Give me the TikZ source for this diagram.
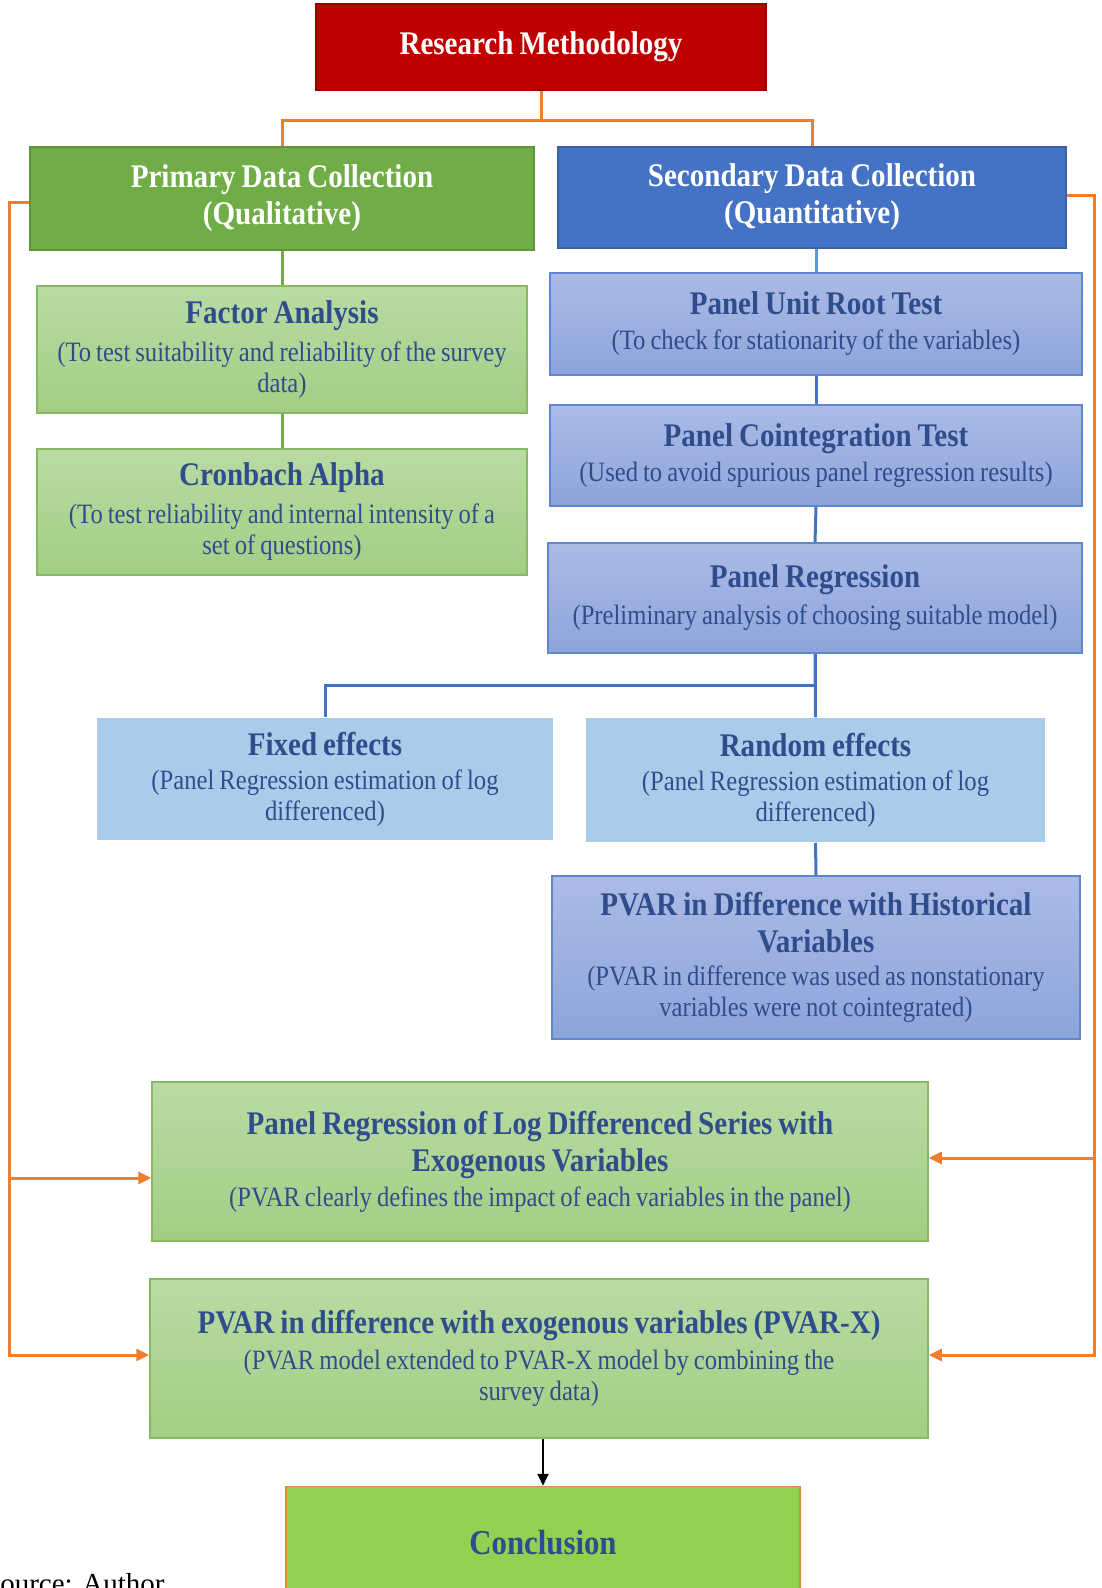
\documentclass[tikz,border=0pt]{standalone}
\usepackage{fontspec}
\setmainfont{Liberation Serif}[FakeStretch=0.88]
\newfontfamily\plainserif{Liberation Serif}
\usetikzlibrary{arrows.meta}

\definecolor{rmred}{RGB}{192,0,0}
\definecolor{pgreen}{RGB}{112,173,71}
\definecolor{sblue}{RGB}{68,114,196}
\definecolor{lgtop}{RGB}{186,219,163}
\definecolor{lgbot}{RGB}{163,205,132}
\definecolor{pwtop}{RGB}{172,187,230}
\definecolor{pwbot}{RGB}{141,164,218}
\definecolor{skyfill}{RGB}{170,204,235}
\definecolor{concfill}{RGB}{146,208,80}
\definecolor{ora}{RGB}{237,125,49}
\definecolor{txtblue}{RGB}{47,77,140}
\definecolor{linkblue}{RGB}{91,155,213}

% title line and explanatory line inside the boxes (tight word spacing)
\newcommand\btitle[1]{{\fontsize{33}{37}\selectfont\bfseries\spaceskip=6pt #1\par}}
\newcommand\bsub[1]{{\fontsize{28}{31}\selectfont\spaceskip=5pt #1\par}}

\tikzset{
  cell/.style 2 args={rectangle, inner sep=0pt, minimum width=#1pt,
    minimum height=#2pt, text width=#1pt, align=center, line width=1.5pt,
    font=\fontsize{28}{31}\selectfont, text=txtblue},
  redhead/.style={fill=rmred, draw=rmred!80!black, text=white},
  greenhead/.style={fill=pgreen, draw=pgreen!85!black, text=white},
  bluehead/.style={fill=sblue, draw=sblue!85!black, text=white},
  lightgreen/.style={top color=lgtop, bottom color=lgbot, draw=pgreen!85},
  periwinkle/.style={top color=pwtop, bottom color=pwbot, draw=sblue!85},
  sky/.style={fill=skyfill},
  conc/.style={fill=concfill, draw=ora!80!concfill},
  oraline/.style={draw=ora, line width=3pt},
  greenline/.style={draw=pgreen, line width=3pt},
  blueline/.style={draw=sblue, line width=3pt},
  oraarrow/.style={oraline, -{Triangle[length=13pt,width=12pt]}},
  blackarrow/.style={draw=black, line width=1.8pt, -{Triangle[length=12pt,width=11pt]}}
}

\begin{document}
\begin{tikzpicture}[x=1pt,y=-1pt]
\useasboundingbox (0,0) rectangle (1101,1588);
\clip (0,0) rectangle (1101,1588);

% ---- top level
\node[cell={450}{86}, redhead] (rm) at (541,47)
  {\btitle{Research Methodology}};

\node[cell={504}{103}, greenhead] (prim) at (282,198.5)
  {\btitle{Primary Data Collection\\(Qualitative)}};
\node[cell={508}{101}, bluehead] (sec) at (812,197.5)
  {\btitle{Secondary Data Collection\\(Quantitative)}};

% ---- qualitative branch
\node[cell={490}{127}, lightgreen] (fa) at (282,349.5)
  {\btitle{Factor Analysis}\vspace{7pt}\bsub{(To test suitability and reliability of the survey\\data)}};
\node[cell={490}{126}, lightgreen] (ca) at (282,512)
  {\btitle{Cronbach Alpha}\vspace{7pt}\bsub{(To test reliability and internal intensity of a\\set of questions)}};

% ---- quantitative branch
\node[cell={532}{102}, periwinkle] (purt) at (816,324)
  {\btitle{Panel Unit Root Test}\vspace{4pt}\bsub{(To check for stationarity of the variables)}};
\node[cell={532}{101}, periwinkle] (pct) at (816,455.5)
  {\btitle{Panel Cointegration Test}\vspace{4pt}\bsub{(Used to avoid spurious panel regression results)}};
\node[cell={534}{110}, periwinkle] (pr) at (815,598)
  {\btitle{Panel Regression}\vspace{6pt}\bsub{(Preliminary analysis of choosing suitable model)}};

\node[cell={456}{122}, sky] (fe) at (325,779)
  {\btitle{Fixed effects}\vspace{3pt}\bsub{(Panel Regression estimation of log\\differenced)}};
\node[cell={459}{124}, sky] (re) at (815.5,780)
  {\btitle{Random effects}\vspace{3pt}\bsub{(Panel Regression estimation of log\\differenced)}};

\node[cell={528}{163}, periwinkle] (pvh) at (816,957.5)
  {\btitle{PVAR in Difference with Historical\\Variables}\vspace{2pt}\bsub{(PVAR in difference was used as nonstationary\\variables were not cointegrated)}};

% ---- combined models
\node[cell={776}{159}, lightgreen] (prl) at (540,1161.5)
  {\btitle{Panel Regression of Log Differenced Series with\\Exogenous Variables}\vspace{4pt}\bsub{(PVAR clearly defines the impact of each variables in the panel)}};
\node[cell={778}{159}, lightgreen] (pvx) at (539,1358.5)
  {\btitle{PVAR in difference with exogenous variables (PVAR-X)}\vspace{5pt}\bsub{(PVAR model extended to PVAR-X model by combining the\\survey data)}};

\node[cell={514}{113}, conc] (con) at (543,1543)
  {{\fontsize{35}{38}\selectfont\bfseries Conclusion}};

\node[anchor=base west, inner sep=0pt, font=\plainserif\fontsize{29}{32}\selectfont] (src) at (-16,1593) {Source: Author};

% ---- connectors
\draw[oraline] (rm.south) -- ++(0,30) -| (prim.north);
\draw[oraline] (rm.south) -- ++(0,30) -| (sec.north);

\draw[greenline] (prim.south) -- (fa.north);
\draw[greenline] (fa.south) -- (ca.north);

\draw[draw=linkblue, line width=3pt] (purt.north |- sec.south) -- (purt.north);
\draw[blueline] (purt.south) -- (pct.north);
\draw[blueline] (pct.south) -- (pr.north);
\draw[blueline] (pr.south) -- ++(0,32) -| (fe.north);
\draw[blueline] (pr.south) -- (re.north);
\draw[blueline] (re.south) -- (pvh.north);

% feedback lines from both data collections into the combined models
\coordinate (lbot) at (9,1355);
\coordinate (lmid) at (9,1178);
\coordinate (rbot) at (1094,1355);
\coordinate (rmid) at (1094,1158);
\draw[oraline] ([yshift=-4pt]prim.west) -| (lbot);
\draw[oraarrow] (lmid) -- (lmid -| prl.west);
\draw[oraarrow] ([xshift=-1.5pt]lbot) -- (lbot -| pvx.west);
\draw[oraline] ([yshift=2.5pt]sec.east) -| (rbot);
\draw[oraarrow] (rmid) -- (rmid -| prl.east);
\draw[oraarrow] ([xshift=1.5pt]rbot) -- (rbot -| pvx.east);

\draw[blackarrow] (con.north |- pvx.south) -- (con.north);
\end{tikzpicture}
\end{document}
